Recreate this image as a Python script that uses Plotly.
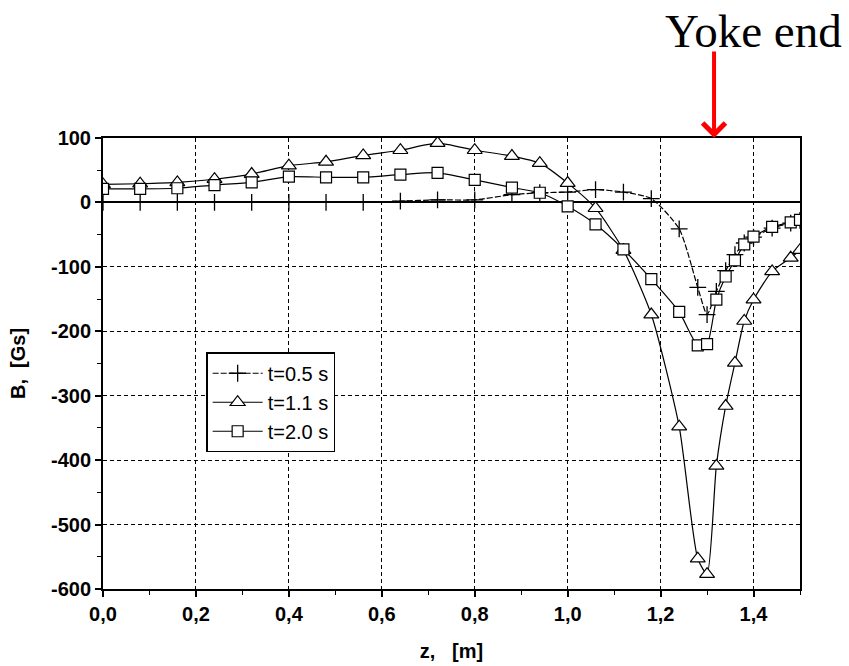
import plotly.graph_objects as go

# ---- data ----
z_05 = [0, 0.08, 0.16, 0.24, 0.32, 0.40, 0.48, 0.56, 0.64, 0.72, 0.80, 0.88, 0.94,
        1.00, 1.06, 1.12, 1.18, 1.24, 1.28, 1.30, 1.32, 1.34, 1.36, 1.38, 1.40, 1.44, 1.48, 1.50]
B_05 = [0, 0, 0, 0, 0, 0, 0, 0, 2, 4, 4, 12, 15,
        16, 20, 16, 6, -41, -132, -174, -138, -106, -81, -63, -54, -40, -32, -28]

z_11 = [0, 0.08, 0.16, 0.24, 0.32, 0.40, 0.48, 0.56, 0.64, 0.72, 0.80, 0.88, 0.94,
        1.00, 1.06, 1.12, 1.18, 1.24, 1.28, 1.30, 1.32, 1.34, 1.36, 1.38, 1.40, 1.44, 1.48, 1.50]
B_11 = [28, 29, 31, 36, 44, 57, 63, 73, 81, 92, 81, 72, 61,
        30, -9, -74, -174, -348, -553, -577, -409, -316, -249, -184, -151, -107, -86, -74]

z_20 = [0, 0.08, 0.16, 0.24, 0.32, 0.40, 0.48, 0.56, 0.64, 0.72, 0.80, 0.88, 0.94,
        1.00, 1.06, 1.12, 1.18, 1.24, 1.28, 1.30, 1.32, 1.34, 1.36, 1.38, 1.40, 1.44, 1.48, 1.50]
B_20 = [21, 21, 22, 27, 31, 40, 39, 39, 43, 46, 35, 23, 15,
        -6, -34, -73, -119, -170, -222, -220, -151, -115, -90, -65, -53, -38, -31, -27]

x_ticks = [0.0, 0.2, 0.4, 0.6, 0.8, 1.0, 1.2, 1.4]
x_ticktext = ["0,0", "0,2", "0,4", "0,6", "0,8", "1,0", "1,2", "1,4"]
y_ticks = [100, 0, -100, -200, -300, -400, -500, -600]
y_ticktext = ["100", "0", "-100", "-200", "-300", "-400", "-500", "-600"]

series_names = ["t=0.5 s", "t=1.1 s", "t=2.0 s"]
yoke_end_z = 1.315

FONT = "Liberation Sans, Arial, sans-serif"
TICKFONT = dict(family=FONT, size=20, color="black", weight="bold")

fig = go.Figure()

fig.add_trace(go.Scatter(
    x=z_05, y=B_05, name=series_names[0], mode="lines+markers",
    line=dict(color="black", width=1.2, dash="6px,2px", shape="spline", smoothing=0.6),
    marker=dict(symbol="cross-thin", size=12, color="black",
                line=dict(color="black", width=1.3)),
))
fig.add_trace(go.Scatter(
    x=z_11, y=B_11, name=series_names[1], mode="lines+markers",
    line=dict(color="black", width=1.2, shape="spline", smoothing=0.6),
    marker=dict(symbol="triangle-up", size=13, color="white",
                line=dict(color="black", width=1.2)),
))
fig.add_trace(go.Scatter(
    x=z_20, y=B_20, name=series_names[2], mode="lines+markers",
    line=dict(color="black", width=1.2, shape="spline", smoothing=0.6),
    marker=dict(symbol="square", size=11, color="white",
                line=dict(color="black", width=1.2)),
))

fig.update_layout(
    width=849, height=666,
    margin=dict(l=103, r=49, t=138, b=77, autoexpand=False),
    paper_bgcolor="white", plot_bgcolor="white",
    font=dict(family=FONT, size=14, color="black"),
    showlegend=True,
    legend=dict(
        x=0.148, y=0.525, xanchor="left", yanchor="top",
        bgcolor="white", bordercolor="black", borderwidth=1.5,
        font=dict(family=FONT, size=20, color="black"),
        itemwidth=50, tracegroupgap=0,
    ),
)

fig.update_xaxes(
    range=[0, 1.5], tickvals=x_ticks, ticktext=x_ticktext,
    showline=True, linecolor="black", linewidth=2, mirror=True,
    ticks="outside", ticklen=6, tickwidth=1.5, tickcolor="black",
    minor=dict(dtick=0.1, ticks="outside", ticklen=4, tickwidth=1.2, tickcolor="black", showgrid=False),
    showgrid=True, gridcolor="black", gridwidth=1, griddash="4px,3px",
    zeroline=False, automargin=False,
    tickfont=TICKFONT,
    title=dict(text="z,   [m]", font=dict(family=FONT, size=20, color="black", weight="bold"), standoff=20),
)
fig.update_yaxes(
    range=[-600, 100], tickvals=y_ticks, ticktext=y_ticktext,
    showline=True, linecolor="black", linewidth=2, mirror=True,
    ticks="outside", ticklen=6, tickwidth=1.5, tickcolor="black",
    minor=dict(dtick=50, ticks="outside", ticklen=4, tickwidth=1.2, tickcolor="black", showgrid=False),
    showgrid=True, gridcolor="black", gridwidth=1, griddash="4px,3px",
    zeroline=True, zerolinecolor="black", zerolinewidth=2,
    automargin=False,
    tickfont=TICKFONT,
    title=dict(text="B,  [Gs]", font=dict(family=FONT, size=20, color="black", weight="bold"), standoff=20),
)

# Red arrow marking the yoke end
fig.add_annotation(
    x=yoke_end_z, y=1, xref="x", yref="paper",
    ax=0, ay=-88, axref="pixel", ayref="pixel",
    text="", showarrow=True, arrowhead=4, arrowsize=1.1,
    arrowwidth=4, arrowcolor="red",
)

plot_l, plot_r, plot_t, plot_b = 103, 800, 138, 589
fig.add_annotation(
    x=(753 - plot_l) / (plot_r - plot_l), y=(plot_b - 31) / (plot_b - plot_t),
    xref="paper", yref="paper", text="Yoke end",
    showarrow=False, font=dict(family="Liberation Serif, Times New Roman, serif", size=47, color="black"),
    xanchor="center", yanchor="middle",
)

fig.write_html("out.html")
